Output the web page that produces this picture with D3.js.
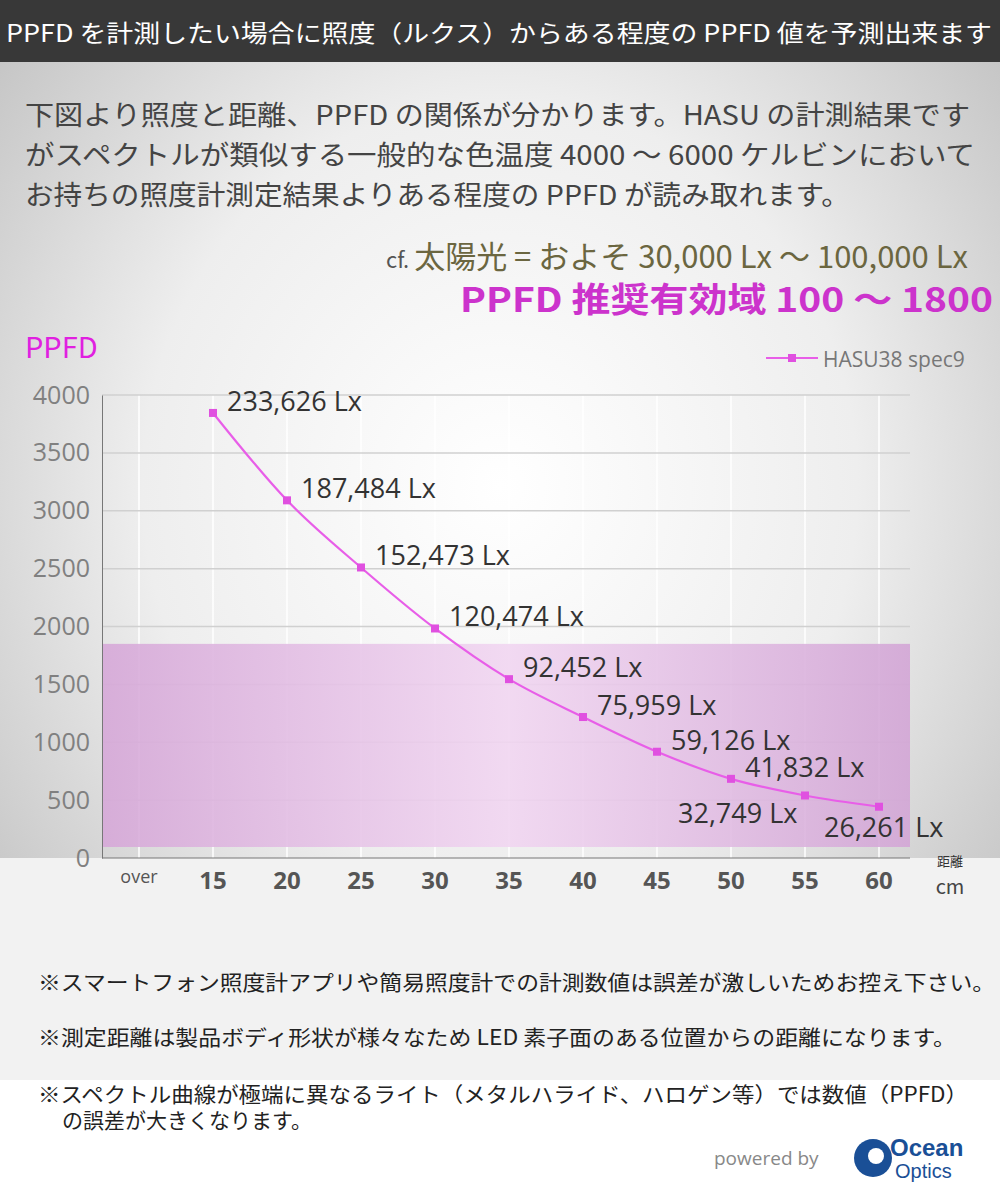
<!DOCTYPE html>
<html><head><meta charset="utf-8">
<script src="https://cdn.jsdelivr.net/npm/d3@7"></script>
<style>body{margin:0;background:#fff}svg{display:block}</style>
</head><body><svg id="c"></svg>
<script>
const categories = ["over", "15", "20", "25", "30", "35", "40", "45", "50", "55", "60"];
const distances = ["15", "20", "25", "30", "35", "40", "45", "50", "55", "60"];
const ppfd = [3845, 3090, 2510, 1983, 1545, 1218, 918, 684, 540, 443];
const luxLabels = ["233,626 Lx", "187,484 Lx", "152,473 Lx", "120,474 Lx", "92,452 Lx", "75,959 Lx", "59,126 Lx", "41,832 Lx", "32,749 Lx", "26,261 Lx"];
const yTicks = [0, 500, 1000, 1500, 2000, 2500, 3000, 3500, 4000];
const band = [95, 1850];

const W = 1000, H = 1200;
const font = "'Noto Sans CJK JP','Noto Sans',sans-serif";
const svg = d3.select("#c").attr("width", W).attr("height", H).style("font-family", font);
const defs = svg.append("defs");
const rg = defs.append("radialGradient").attr("id", "bg").attr("cx", "50%").attr("cy", "45%").attr("r", "65%");
rg.append("stop").attr("offset", "0%").attr("stop-color", "#ffffff");
rg.append("stop").attr("offset", "55%").attr("stop-color", "#eeeeee");
rg.append("stop").attr("offset", "100%").attr("stop-color", "#c4c4c4");
const pg = defs.append("linearGradient").attr("id", "pk").attr("x1", "0").attr("x2", "1");
pg.append("stop").attr("offset", "0%").attr("stop-color", "#d6a8d8");
pg.append("stop").attr("offset", "50%").attr("stop-color", "#f1d6f1");
pg.append("stop").attr("offset", "100%").attr("stop-color", "#d3a6d6");

svg.append("rect").attr("width", W).attr("height", 1080).attr("fill", "url(#bg)");
svg.append("rect").attr("y", 858).attr("width", W).attr("height", 222).attr("fill", "#f2f2f2");
svg.append("rect").attr("y", 1080).attr("width", W).attr("height", 120).attr("fill", "#fff");
svg.append("rect").attr("width", W).attr("height", 62).attr("fill", "#383838");
svg.append("text").attr("x", 6).attr("y", 42).attr("fill", "#fff").attr("font-size", 24)
  .attr("textLength", 986).attr("lengthAdjust", "spacingAndGlyphs")
  .text("PPFD を計測したい場合に照度（ルクス）からある程度の PPFD 値を予測出来ます");

const para = [["下図より照度と距離、PPFD の関係が分かります。HASU の計測結果です", 945],
  ["がスペクトルが類似する一般的な色温度 4000 ～ 6000 ケルビンにおいて", 950],
  ["お持ちの照度計測定結果よりある程度の PPFD が読み取れます。", 825]];
para.forEach(([t, w], i) => svg.append("text").attr("x", 25).attr("y", 125 + i * 40)
  .attr("fill", "#444").attr("font-size", 27).attr("textLength", w).attr("lengthAdjust", "spacingAndGlyphs").text(t));
const cf = svg.append("text").attr("x", 968).attr("y", 268).attr("text-anchor", "end").attr("fill", "#6b6640").attr("font-size", 31);
cf.append("tspan").attr("font-size", 22).attr("fill", "#555").text("cf. ");
cf.append("tspan").text("太陽光 = およそ 30,000 Lx ～ 100,000 Lx");
svg.append("text").attr("x", 993).attr("y", 312).attr("text-anchor", "end").attr("fill", "#cc33cc")
  .attr("font-size", 34).attr("font-weight", "bold").attr("textLength", 533).attr("lengthAdjust", "spacingAndGlyphs")
  .text("PPFD 推奨有効域 100 ～ 1800");

const m = { left: 102, right: 910, top: 395, bottom: 858 };
const x = d3.scaleBand().domain(categories).range([m.left, m.right + 6]);
const y = d3.scaleLinear().domain([0, 4000]).range([m.bottom, m.top]);
const cx = d => x(d) + x.bandwidth() / 2;

// grid
svg.append("g").selectAll("line").data(categories).join("line")
  .attr("x1", cx).attr("x2", cx).attr("y1", m.top).attr("y2", m.bottom)
  .attr("stroke", "#fff").attr("stroke-width", 1.5);
svg.append("g").selectAll("line").data(yTicks.slice(1)).join("line")
  .attr("x1", m.left).attr("x2", m.right).attr("y1", y).attr("y2", y)
  .attr("stroke", "#d0d0d0").attr("stroke-width", 1.5);

svg.append("rect").attr("x", m.left).attr("width", m.right - m.left)
  .attr("y", y(band[1])).attr("height", y(band[0]) - y(band[1]))
  .attr("fill", "url(#pk)").attr("opacity", 0.9);

// axes
const ya = svg.append("g").attr("transform", `translate(${m.left},0)`)
  .call(d3.axisLeft(y).tickValues(yTicks).tickFormat(d3.format("d")).tickSize(0).tickPadding(12));
ya.select(".domain").attr("stroke", "#777");
ya.selectAll("text").attr("font-size", 25).attr("fill", "#808080").attr("font-family", "'Open Sans',sans-serif");
const xa = svg.append("g").attr("transform", `translate(0,${m.bottom})`)
  .call(d3.axisBottom(x).tickSize(0).tickPadding(14).tickSizeOuter(0));
xa.select(".domain").attr("stroke", "#777").attr("d", `M${m.left},0H${m.right}`);
xa.selectAll("text").attr("font-size", 24).attr("font-weight", "bold").attr("fill", "#555")
  .attr("font-family", "'Open Sans',sans-serif");
xa.selectAll("text").filter(d => d === "over").attr("font-weight", "normal").attr("font-size", 18).attr("dy", "0.6em");

svg.append("text").attr("x", 950).attr("y", 866).attr("text-anchor", "middle").attr("font-size", 13).attr("fill", "#333").text("距離");
svg.append("text").attr("x", 950).attr("y", 894).attr("text-anchor", "middle").attr("font-size", 20).attr("fill", "#444").text("cm");
svg.append("text").attr("x", 25).attr("y", 358).attr("font-size", 29).attr("fill", "#e020e0").text("PPFD");

// series
const pts = distances.map((d, i) => ({ d, v: ppfd[i], l: luxLabels[i] }));
svg.append("path").datum(pts).attr("fill", "none").attr("stroke", "#e85ee8").attr("stroke-width", 2.2)
  .attr("d", d3.line().x(p => cx(p.d)).y(p => y(p.v)).curve(d3.curveMonotoneX));
svg.append("g").selectAll("rect").data(pts).join("rect")
  .attr("x", p => cx(p.d) - 4).attr("y", p => y(p.v) - 4).attr("width", 8).attr("height", 8).attr("fill", "#e050e0");
const below = { "55": [-127, 28], "60": [-55, 30] };
svg.append("g").selectAll("text").data(pts).join("text")
  .attr("x", p => cx(p.d) + (below[p.d] ? below[p.d][0] : 14))
  .attr("y", p => y(p.v) + (below[p.d] ? below[p.d][1] : -2))
  .attr("font-size", 27).attr("fill", "#333").attr("font-family", "'Open Sans',sans-serif").text(p => p.l);

// legend
svg.append("line").attr("x1", 766).attr("x2", 818).attr("y1", 358).attr("y2", 358).attr("stroke", "#e85ee8").attr("stroke-width", 2.2);
svg.append("rect").attr("x", 788).attr("y", 354).attr("width", 8).attr("height", 8).attr("fill", "#e050e0");
svg.append("text").attr("x", 823).attr("y", 367).attr("font-size", 21).attr("fill", "#777").attr("font-family", "'Open Sans',sans-serif").text("HASU38 spec9");

// notes
const notes = [["※スマートフォン照度計アプリや簡易照度計での計測数値は誤差が激しいためお控え下さい。", 990, 957],
  ["※測定距離は製品ボディ形状が様々なため LED 素子面のある位置からの距離になります。", 1045, 918],
  ["※スペクトル曲線が極端に異なるライト（メタルハライド、ハロゲン等）では数値（PPFD）", 1102, 930]];
notes.forEach(([t, yy, w]) => svg.append("text").attr("x", 38).attr("y", yy).attr("font-size", 21)
  .attr("textLength", w).attr("lengthAdjust", "spacingAndGlyphs").attr("fill", "#222").text(t));
svg.append("text").attr("x", 62).attr("y", 1128).attr("font-size", 21).attr("fill", "#222").text("の誤差が大きくなります。");

svg.append("text").attr("x", 714).attr("y", 1165).attr("font-size", 19).attr("fill", "#888").attr("font-family", "'Open Sans',sans-serif").text("powered by");
svg.append("circle").attr("cx", 873).attr("cy", 1158).attr("r", 19).attr("fill", "#1a4f96");
svg.append("circle").attr("cx", 876).attr("cy", 1156).attr("r", 8).attr("fill", "#fff");
svg.append("text").attr("x", 890).attr("y", 1156).attr("font-size", 24).attr("font-weight", "bold").attr("fill", "#1a4f96").attr("font-family", "Arial,sans-serif").text("Ocean");
svg.append("text").attr("x", 895).attr("y", 1178).attr("font-size", 20).attr("fill", "#1a4f96").attr("font-family", "Arial,sans-serif").text("Optics");
</script></body></html>
